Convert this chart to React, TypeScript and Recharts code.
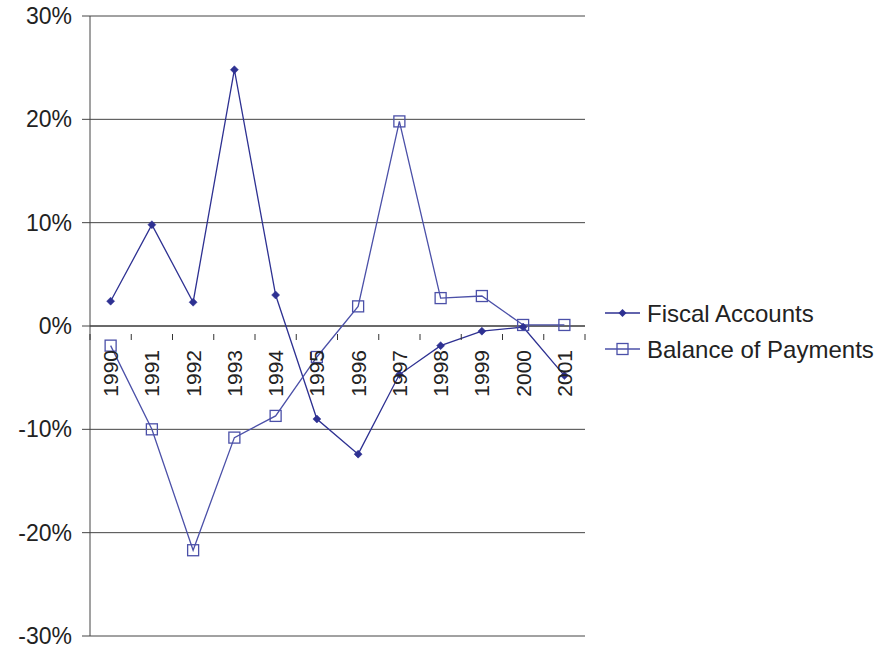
import { CartesianGrid, Line, LineChart, ReferenceLine, XAxis, YAxis } from "recharts";

const years = ["1990", "1991", "1992", "1993", "1994", "1995", "1996", "1997", "1998", "1999", "2000", "2001"];
const fiscal = [2.4, 9.8, 2.3, 24.8, 3.0, -9.0, -12.4, -4.7, -1.9, -0.5, -0.1, -4.8];
const balance = [-1.9, -10.0, -21.7, -10.8, -8.7, -3.0, 1.9, 19.8, 2.7, 2.9, 0.1, 0.1];
const yTicks = [-30, -20, -10, 0, 10, 20, 30];
const seriesNames = ["Fiscal Accounts", "Balance of Payments"];

const data = years.map((y, i) => ({ year: y, fiscal: fiscal[i], balance: balance[i] }));

const W = 882;
const H = 651;
const M = { top: 16, right: 297, bottom: 14, left: 0 };
const plotH = H - M.top - M.bottom - 1;
const band = (W - M.right - 90) / years.length;

const FISCAL = "#2e3192";
const BOP = "#4b50a8";
const FONT = "Liberation Sans, Arial, sans-serif";

function Diamond(props: any) {
  const { cx, cy } = props;
  if (cx == null || cy == null) return null;
  const r = 4;
  return <path d={`M${cx},${cy - r}L${cx + r},${cy}L${cx},${cy + r}L${cx - r},${cy}Z`} fill={FISCAL} stroke={FISCAL} strokeWidth={0.5} />;
}

function Square(props: any) {
  const { cx, cy } = props;
  if (cx == null || cy == null) return null;
  const r = 5.5;
  return <rect x={cx - r} y={cy - r} width={r * 2} height={r * 2} fill="none" stroke={BOP} strokeWidth={1.3} />;
}

// category labels sit under the zero line, not at the bottom of the plot
function YearTick(props: any) {
  const { x, y, payload, index } = props;
  const y0 = y - plotH / 2;
  const last = index === years.length - 1;
  return (
    <g>
      <line x1={x - band / 2} y1={y0} x2={x - band / 2} y2={y0 + 6} stroke="#333" strokeWidth={1} />
      {last && <line x1={x + band / 2} y1={y0} x2={x + band / 2} y2={y0 + 6} stroke="#333" strokeWidth={1} />}
      <text
        x={x}
        y={y0 + 16}
        transform={`rotate(-90 ${x} ${y0 + 16})`}
        textAnchor="end"
        dy="0.36em"
        fontSize={21}
        fill="#222"
        fontFamily={FONT}
      >
        {payload.value}
      </text>
    </g>
  );
}

function LegendBox() {
  return (
    <svg width={280} height={80} style={{ position: "absolute", left: 605, top: 295 }}>
      {seriesNames.map((label, i) => {
        const cy = 18 + i * 36;
        const c = i === 0 ? FISCAL : BOP;
        return (
          <g key={label}>
            <line x1={0} y1={cy} x2={35} y2={cy} stroke={c} strokeWidth={1.3} />
            {i === 0 ? (
              <path d={`M17.5,${cy - 4}L21.5,${cy}L17.5,${cy + 4}L13.5,${cy}Z`} fill={FISCAL} />
            ) : (
              <rect x={12} y={cy - 5.5} width={11} height={11} fill="none" stroke={BOP} strokeWidth={1.3} />
            )}
            <text x={42} y={cy} dy="0.36em" fontSize={24} fill="#222" fontFamily={FONT}>
              {label}
            </text>
          </g>
        );
      })}
    </svg>
  );
}

export default function App() {
  return (
    <div style={{ position: "absolute", left: 0, top: 0, width: W, height: H, background: "#fff" }}>
      <LineChart width={W} height={H} data={data} margin={M}>
        <CartesianGrid vertical={false} stroke="#444" strokeWidth={1} />
        <XAxis
          dataKey="year"
          axisLine={false}
          tickLine={false}
          height={1}
          tick={<YearTick />}
          interval={0}
          padding={{ left: band / 2, right: band / 2 }}
        />
        <YAxis
          width={90}
          domain={[-30, 30]}
          ticks={yTicks}
          tickFormatter={(v) => `${v}%`}
          axisLine={{ stroke: "#444" }}
          tickLine={{ stroke: "#444" }}
          tickSize={8}
          tickMargin={10}
          tick={{ fontSize: 23, fill: "#222", fontFamily: FONT }}
        />
        <ReferenceLine y={0} stroke="#333" strokeWidth={1} />
        <Line
          dataKey="fiscal"
          name={seriesNames[0]}
          type="linear"
          stroke={FISCAL}
          strokeWidth={1.3}
          dot={<Diamond />}
          activeDot={false}
          isAnimationActive={false}
        />
        <Line
          dataKey="balance"
          name={seriesNames[1]}
          type="linear"
          stroke={BOP}
          strokeWidth={1.3}
          dot={<Square />}
          activeDot={false}
          isAnimationActive={false}
        />
      </LineChart>
      <LegendBox />
    </div>
  );
}
